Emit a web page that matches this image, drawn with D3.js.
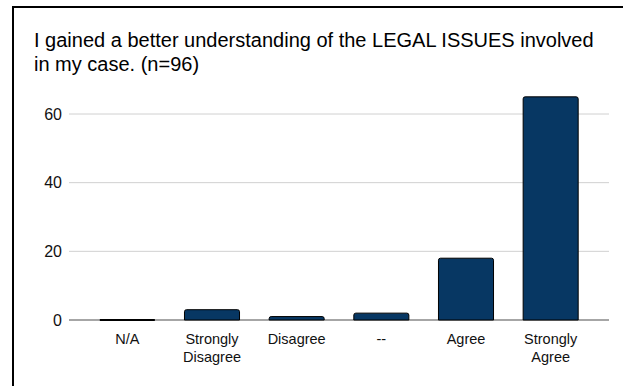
<!DOCTYPE html>
<html>
<head>
<meta charset="utf-8">
<script src="https://cdn.jsdelivr.net/npm/d3@7"></script>
<style>
  body { margin: 0; background: #fff; }
  text { font-family: "Liberation Sans", Arial, sans-serif; }
</style>
</head>
<body>
<svg id="chart" width="623" height="386"></svg>
<script>
var categories = ["N/A", "Strongly Disagree", "Disagree", "--", "Agree", "Strongly Agree"];
var counts = [0, 3, 1, 2, 18, 65];
var yTicks = [0, 20, 40, 60];
var titleLines = ["I gained a better understanding of the LEGAL ISSUES involved", "in my case. (n=96)"];

var svg = d3.select("#chart");

svg.append("rect").attr("width", 623).attr("height", 386).attr("fill", "#fff");

// frame (only top and left edges are visible)
svg.append("path")
    .attr("d", "M13,386V7H623")
    .attr("fill", "none")
    .attr("stroke", "#000")
    .attr("stroke-width", 2);

svg.append("g").selectAll("text")
    .data(titleLines)
    .enter().append("text")
    .attr("x", 34)
    .attr("y", function(d, i) { return 47 + i * 24; })
    .attr("font-size", "20px")
    .attr("fill", "#000")
    .text(function(d) { return d; });

var y = d3.scaleLinear().domain([0, 60]).range([320, 114]);
var x = d3.scaleBand().domain(categories).range([85, 593])
    .paddingInner(0.35).paddingOuter(0.175);

var gridLeft = 69, gridRight = 609;

svg.append("g").selectAll("line")
    .data(yTicks)
    .enter().append("line")
    .attr("x1", gridLeft).attr("x2", gridRight)
    .attr("y1", function(d) { return y(d); })
    .attr("y2", function(d) { return y(d); })
    .attr("stroke", function(d) { return d === 0 ? "#888" : "#d0d0d0"; })
    .attr("stroke-width", function(d) { return d === 0 ? 1.5 : 1; });

svg.append("g").selectAll("text")
    .data(yTicks)
    .enter().append("text")
    .attr("x", 62)
    .attr("y", function(d) { return y(d); })
    .attr("dy", "0.36em")
    .attr("text-anchor", "end")
    .attr("font-size", "16px")
    .attr("fill", "#111")
    .text(function(d) { return d; });

function barPath(d, i) {
  var x0 = x(categories[i]), w = x.bandwidth();
  var top = y(d), base = y(0), r = Math.min(2, base - top);
  return "M" + x0 + "," + base + "V" + (top + r) +
    "Q" + x0 + "," + top + " " + (x0 + r) + "," + top +
    "H" + (x0 + w - r) +
    "Q" + (x0 + w) + "," + top + " " + (x0 + w) + "," + (top + r) +
    "V" + base + "Z";
}

svg.append("g").selectAll("path")
    .data(counts)
    .enter().append("path")
    .attr("d", barPath)
    .attr("fill", "#073763")
    .attr("stroke", "#000")
    .attr("stroke-width", function(d) { return d === 0 ? 2 : 1; });

var labels = svg.append("g").selectAll("text")
    .data(categories)
    .enter().append("text")
    .attr("text-anchor", "middle")
    .attr("font-size", "14.5px")
    .attr("fill", "#111");

labels.selectAll("tspan")
    .data(function(d) { return d.split(" "); })
    .enter().append("tspan")
    .attr("x", function() { return x(d3.select(this.parentNode).datum()) + x.bandwidth() / 2; })
    .attr("y", function(d, i) { return 344 + i * 18; })
    .text(function(d) { return d; });
</script>
</body>
</html>
